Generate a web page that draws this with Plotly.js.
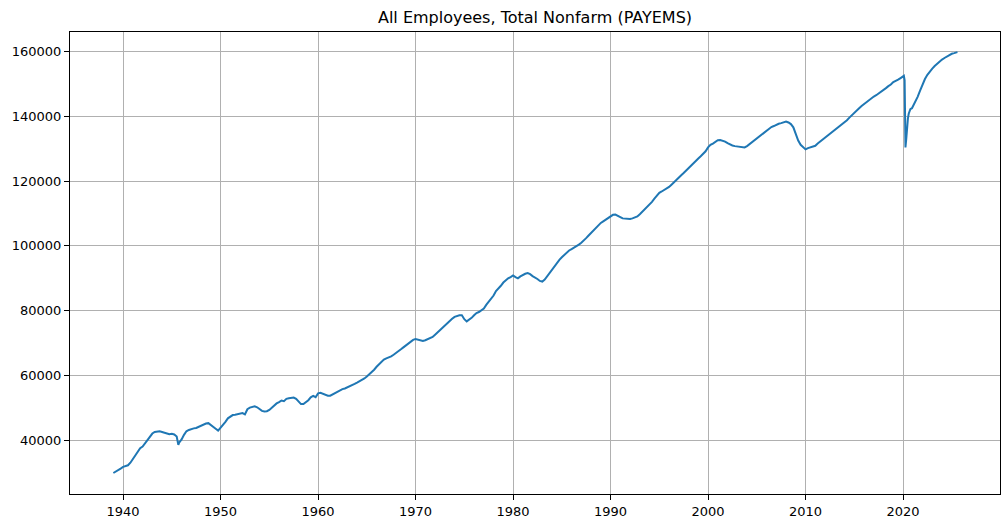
<!DOCTYPE html>
<html>
<head>
<meta charset="utf-8">
<script src="https://cdn.plot.ly/plotly-3.0.1.min.js"></script>
<style>html,body{margin:0;padding:0;background:#fff;}#chart{width:1006px;height:524px;}</style>
</head>
<body>
<div id="chart"></div>
<script>
// Observation dates (quarterly, with extra points at sharp turns)
const dates = [
"1939-01","1939-04","1939-07","1939-10",
"1940-01","1940-04","1940-07","1940-10",
"1941-01","1941-04","1941-07","1941-10",
"1942-01","1942-04","1942-07","1942-10",
"1943-01","1943-04","1943-07","1943-10",
"1944-01","1944-04","1944-07","1944-10",
"1945-01","1945-04","1945-07","1945-09","1945-10",
"1946-01","1946-04","1946-07","1946-10",
"1947-01","1947-04","1947-07","1947-10",
"1948-01","1948-04","1948-07","1948-10",
"1949-01","1949-04","1949-07","1949-10",
"1950-01","1950-04","1950-07","1950-10",
"1951-01","1951-04","1951-07","1951-10",
"1952-01","1952-04","1952-07","1952-10",
"1953-01","1953-04","1953-07","1953-10",
"1954-01","1954-04","1954-07","1954-10",
"1955-01","1955-04","1955-07","1955-10",
"1956-01","1956-04","1956-07","1956-10",
"1957-01","1957-04","1957-07","1957-10",
"1958-01","1958-04","1958-07","1958-10",
"1959-01","1959-04","1959-07","1959-10",
"1960-01","1960-04","1960-07","1960-10",
"1961-01","1961-04","1961-07","1961-10",
"1962-01","1962-04","1962-07","1962-10",
"1963-01","1963-04","1963-07","1963-10",
"1964-01","1964-04","1964-07","1964-10",
"1965-01","1965-04","1965-07","1965-10",
"1966-01","1966-04","1966-07","1966-10",
"1967-01","1967-04","1967-07","1967-10",
"1968-01","1968-04","1968-07","1968-10",
"1969-01","1969-04","1969-07","1969-10",
"1970-01","1970-04","1970-07","1970-10",
"1971-01","1971-04","1971-07","1971-10",
"1972-01","1972-04","1972-07","1972-10",
"1973-01","1973-04","1973-07","1973-10",
"1974-01","1974-04","1974-07","1974-10",
"1975-01","1975-04","1975-07","1975-10",
"1976-01","1976-04","1976-07","1976-10",
"1977-01","1977-04","1977-07","1977-10",
"1978-01","1978-04","1978-07","1978-10",
"1979-01","1979-04","1979-07","1979-10",
"1980-01","1980-04","1980-07","1980-10",
"1981-01","1981-04","1981-07","1981-10",
"1982-01","1982-04","1982-07","1982-10",
"1983-01","1983-04","1983-07","1983-10",
"1984-01","1984-04","1984-07","1984-10",
"1985-01","1985-04","1985-07","1985-10",
"1986-01","1986-04","1986-07","1986-10",
"1987-01","1987-04","1987-07","1987-10",
"1988-01","1988-04","1988-07","1988-10",
"1989-01","1989-04","1989-07","1989-10",
"1990-01","1990-04","1990-07","1990-10",
"1991-01","1991-04","1991-07","1991-10",
"1992-01","1992-04","1992-07","1992-10",
"1993-01","1993-04","1993-07","1993-10",
"1994-01","1994-04","1994-07","1994-10",
"1995-01","1995-04","1995-07","1995-10",
"1996-01","1996-04","1996-07","1996-10",
"1997-01","1997-04","1997-07","1997-10",
"1998-01","1998-04","1998-07","1998-10",
"1999-01","1999-04","1999-07","1999-10",
"2000-01","2000-04","2000-07","2000-10",
"2001-01","2001-04","2001-07","2001-10",
"2002-01","2002-04","2002-07","2002-10",
"2003-01","2003-04","2003-07","2003-10",
"2004-01","2004-04","2004-07","2004-10",
"2005-01","2005-04","2005-07","2005-10",
"2006-01","2006-04","2006-07","2006-10",
"2007-01","2007-04","2007-07","2007-10",
"2008-01","2008-04","2008-07","2008-10",
"2009-01","2009-04","2009-07","2009-10",
"2010-01","2010-04","2010-07","2010-10",
"2011-01","2011-04","2011-07","2011-10",
"2012-01","2012-04","2012-07","2012-10",
"2013-01","2013-04","2013-07","2013-10",
"2014-01","2014-04","2014-07","2014-10",
"2015-01","2015-04","2015-07","2015-10",
"2016-01","2016-04","2016-07","2016-10",
"2017-01","2017-04","2017-07","2017-10",
"2018-01","2018-04","2018-07","2018-10",
"2019-01","2019-04","2019-07","2019-10",
"2020-01","2020-02","2020-03","2020-04","2020-05","2020-06","2020-07","2020-08","2020-09","2020-10","2020-12",
"2021-01","2021-04","2021-07","2021-10",
"2022-01","2022-04","2022-07","2022-10",
"2023-01","2023-04","2023-07","2023-10",
"2024-01","2024-04","2024-07","2024-10",
"2025-01","2025-04","2025-07","2025-08"
];
// All employees, thousands
const employees = [
29923,30300,30700,31300,
31800,32000,32300,33100,
34300,35600,36800,37600,
38100,39100,40400,41400,
42100,42600,42700,42800,
42600,42300,42100,41900,
42000,41800,41200,38600,39300,
40300,41700,42800,43200,
43500,43700,43800,44200,
44600,44800,45200,45300,
44800,44100,43600,43000,
43800,44800,45700,46800,
47400,47800,47900,48000,
48300,48400,48000,49600,
50100,50400,50500,50200,
49600,49100,48900,49000,
49400,50100,50800,51400,
51800,52300,52100,52800,
53000,53200,53200,52800,
52000,51200,51200,51700,
52400,53300,53700,53300,
54500,54700,54400,54200,
53800,53800,54200,54600,
55100,55600,55800,56000,
56300,56700,57000,57400,
57800,58200,58600,59100,
59700,60300,61000,61800,
62700,63500,64200,64900,
65300,65500,65900,66400,
66900,67500,68100,68700,
69300,69900,70600,71000,
71300,71100,70900,70700,
70900,71300,71500,71900,
72600,73300,73900,74700,
75500,76300,76800,77500,
78100,78400,78600,78600,
77400,76700,77200,77800,
78600,79300,79600,80100,
80700,81800,82800,83700,
84700,86100,86800,87700,
88700,89500,90000,90400,
90900,90400,90000,90600,
91100,91400,91600,91300,
90700,90300,89800,89200,
89000,89600,90600,91600,
92800,94000,94900,95700,
96500,97200,97900,98600,
99000,99400,99900,100400,
101000,101600,102400,103200,
104000,104800,105700,106400,
107100,107600,108100,108600,
109200,109600,109700,109400,
108900,108500,108400,108400,
108300,108500,108700,109100,
109800,110500,111200,111900,
112700,113600,114600,115500,
116400,116800,117200,117700,
118200,118900,119700,120300,
121100,121800,122500,123200,
124100,124800,125500,126200,
127000,127700,128400,129200,
130400,131200,131600,132000,
132600,132700,132500,132200,
131700,131300,131000,130800,
130700,130500,130300,130400,
130800,131400,132000,132500,
133100,133700,134400,134800,
135500,136200,136700,137000,
137400,137700,137900,138100,
138400,138100,137600,136600,
134600,132500,131200,130500,
129800,130200,130400,130500,
130900,131600,132200,132800,
133400,134000,134500,135100,
135700,136300,136900,137500,
138100,138800,139600,140400,
141100,141800,142500,143200,
143800,144500,145100,145600,
146100,146500,147000,147500,
148000,148700,149300,149800,
150600,150900,151300,151800,
152300,152500,151100,130400,133000,137800,139300,140800,141500,142200,142500,
143000,144200,146000,147900,
149800,151500,152800,153900,
154700,155500,156200,156900,
157500,158000,158500,158900,
159300,159500,159700,159800
];
const titleText = "All Employees, Total Nonfarm (PAYEMS)";
const yTicks = [40000, 60000, 80000, 100000, 120000, 140000, 160000];
const xTicks = ["1940-01-01","1950-01-01","1960-01-01","1970-01-01","1980-01-01","1990-01-01","2000-01-01","2010-01-01","2020-01-01"];
const xTickText = ["1940","1950","1960","1970","1980","1990","2000","2010","2020"];

const trace = {
  x: dates.map(d => d + "-01"),
  y: employees,
  type: "scatter",
  mode: "lines",
  line: {color: "#1f77b4", width: 2},
  hoverinfo: "x+y"
};
const font = {family: "DejaVu Sans, sans-serif", size: 13, color: "#000"};
const layout = {
  width: 1006, height: 524,
  margin: {l: 70, r: 6, t: 32, b: 30},
  paper_bgcolor: "#fff", plot_bgcolor: "#fff",
  font: font,
  showlegend: false,
  title: {text: titleText, font: {family: "DejaVu Sans, sans-serif", size: 16, color: "#000"},
          x: 0.5, xref: "paper", xanchor: "center", y: 1 - 17/524, yref: "container", yanchor: "middle"},
  xaxis: {
    type: "date",
    range: ["1934-07-22", "2029-12-12"],
    tickvals: xTicks, ticktext: xTickText,
    showgrid: true, gridcolor: "#b0b0b0", gridwidth: 1,
    showline: true, linecolor: "#000", linewidth: 1, mirror: true,
    ticks: "outside", ticklen: 5, tickwidth: 1, tickcolor: "#000",
    zeroline: false, tickfont: font
  },
  yaxis: {
    range: [23442, 166021],
    tickvals: yTicks, tickformat: "d",
    showgrid: true, gridcolor: "#b0b0b0", gridwidth: 1,
    showline: true, linecolor: "#000", linewidth: 1, mirror: true,
    ticks: "outside", ticklen: 5, tickwidth: 1, tickcolor: "#000",
    zeroline: false, tickfont: font
  }
};
Plotly.newPlot("chart", [trace], layout, {staticPlot: true, displayModeBar: false});
</script>
</body>
</html>
